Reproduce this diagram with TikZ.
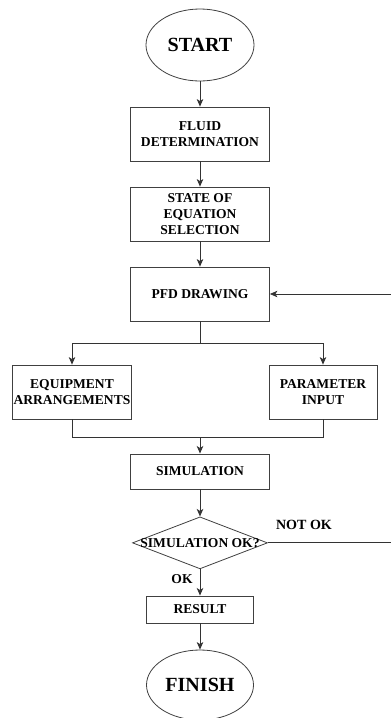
\documentclass[tikz,border=0pt]{standalone}
\usepackage{fontspec}
\setmainfont{Liberation Serif}
\usetikzlibrary{arrows.meta,shapes.geometric,positioning}

\begin{document}
\begin{tikzpicture}[
        terminal/.style={ellipse, draw, inner sep=0pt, minimum width=3.78cm, minimum height=2.52cm, font=\bfseries\fontsize{20}{24}\selectfont, draw=black!75, line width=0.8pt},
        process/.style={rectangle, draw, inner sep=1pt, minimum width=4.865cm, minimum height=1.89cm, align=center, font=\bfseries\fontsize{13.5}{15.8}\selectfont, draw=black!75, line width=0.8pt},
        decision/.style={diamond, draw, inner sep=0pt, minimum width=4.725cm, minimum height=1.82cm, font=\bfseries\fontsize{13.5}{15}\selectfont, draw=black!75, line width=0.8pt},
        arrow/.style={line width=0.8pt, draw=black!80, -{Stealth[length=7.5pt,width=6.5pt,inset=2pt]}},
        line/.style={line width=0.8pt, draw=black!80},
        tag/.style={inner sep=0pt, font=\bfseries\fontsize{14}{16}\selectfont}
    ]

    % Page frame, the loop back runs off its right edge
    \useasboundingbox (0,0) rectangle (13.685,-25.13);
    \clip (0,0) rectangle (13.685,-25.13);

    % Main column
    \node[terminal] (start) at (7,-1.575) {START};
    \node[process] (fluid) at (7,-4.69) {FLUID\\DETERMINATION};
    \node[process] (state) at (7,-7.49) {STATE OF\\EQUATION\\SELECTION};
    \node[process] (pfd) at (7,-10.29) {PFD DRAWING};

    % Two branches
    \node[process, minimum width=4.06cm] (equip) at (2.52,-13.72) {EQUIPMENT\\ARRANGEMENTS};
    \node[process, minimum width=3.78cm] (param) at (11.305,-13.72) {PARAMETER\\INPUT};

    \node[process, minimum height=1.225cm] (sim) at (7,-16.5) {SIMULATION};
    \node[decision] (check) at (7,-19.0) {\makebox[0pt]{SIMULATION OK?}};
    \node[process, minimum width=3.745cm, minimum height=0.945cm] (result) at (7,-21.33) {RESULT};
    \node[terminal, minimum width=3.745cm, minimum height=2.45cm] (finish) at (7,-23.975) {FINISH};

    % Branch points
    \coordinate (split) at (7,-12.005);
    \coordinate (join) at (7,-15.295);
    \coordinate (back) at (14.0,-19.0);

    \draw[arrow] (start) -- (fluid);
    \draw[arrow] (fluid) -- (state);
    \draw[arrow] (state) -- (pfd);
    \draw[line] (pfd) -- (split);
    \draw[arrow] (split) -| (equip);
    \draw[arrow] (split) -| (param);
    \draw[line] (equip) |- (join);
    \draw[line] (param) |- (join);
    \draw[arrow] (join) -- (sim);
    \draw[arrow] (sim) -- (check);
    \draw[arrow] (check) -- (result);
    \draw[arrow] (result) -- (finish);

    % Loop back when the run fails
    \draw[arrow] (check.east) -- (back) |- (pfd.east);

    % Answers
    \node[tag] (notok) at (10.64,-18.375) {NOT OK};
    \node[tag, font=\bfseries\fontsize{13.5}{16}\selectfont] (ok) at (6.37,-20.265) {OK};

\end{tikzpicture}
\end{document}
